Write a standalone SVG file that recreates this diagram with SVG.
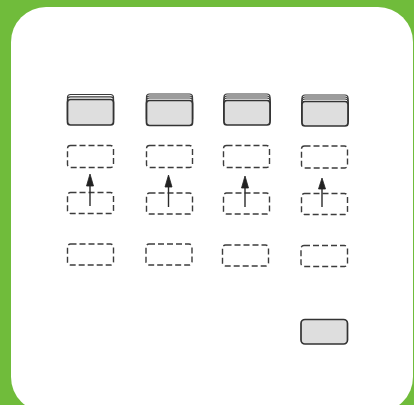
<svg xmlns="http://www.w3.org/2000/svg" width="414" height="405" viewBox="0 0 414 405">
<defs>
<style>
.card{fill:#ffffff;stroke:#3a3a3a;stroke-width:1.2}
.front{fill:#dedede;stroke:#333333;stroke-width:1.7}
.dash{fill:none;stroke:#3c3c3c;stroke-width:1.4;stroke-dasharray:6 3}
.conn{stroke:#2a2a2a;stroke-width:1.4;fill:none}
.head{fill:#222222;stroke:#222222;stroke-width:0.8;stroke-linejoin:round}
</style>
</defs>
<rect x="0" y="0" width="414" height="405" fill="#70bc3b"/>
<rect x="11" y="7" width="402" height="405" rx="35" ry="35" fill="#ffffff"/>

<g id="stack1">
<rect class="card" x="67.5" y="94.5" width="46" height="28" rx="3"/>
<rect class="card" x="67.5" y="96.8" width="46" height="26" rx="3"/>
<rect class="front" x="67.5" y="99.5" width="46" height="25.5" rx="3"/>
</g>
<g id="stack2">
<rect class="card" x="146.5" y="94" width="46" height="28" rx="3"/>
<rect class="card" x="146.5" y="96" width="46" height="26" rx="3"/>
<rect class="card" x="146.5" y="98" width="46" height="26" rx="3"/>
<rect class="front" x="146.5" y="100.5" width="46" height="25" rx="3"/>
</g>
<g id="stack3">
<rect class="card" x="224" y="94" width="46" height="28" rx="3"/>
<rect class="card" x="224" y="96" width="46" height="26" rx="3"/>
<rect class="card" x="224" y="98" width="46" height="26" rx="3"/>
<rect class="front" x="224" y="100.5" width="46" height="24.5" rx="3"/>
</g>
<g id="stack4">
<rect class="card" x="302" y="95" width="46" height="28" rx="3"/>
<rect class="card" x="302" y="97" width="46" height="26" rx="3"/>
<rect class="card" x="302" y="99" width="46" height="26" rx="3"/>
<rect class="front" x="302" y="101.5" width="46" height="24.5" rx="3"/>
</g>

<g id="slot1a"><rect class="dash" x="67.5" y="145.5" width="46" height="22" rx="3"/></g>
<g id="slot2a"><rect class="dash" x="146.5" y="145.5" width="46" height="22" rx="3"/></g>
<g id="slot3a"><rect class="dash" x="223.5" y="145.5" width="46" height="22" rx="3"/></g>
<g id="slot4a"><rect class="dash" x="301.5" y="146" width="46" height="22" rx="3"/></g>

<g id="slot1b"><rect class="dash" x="67.5" y="192.5" width="46" height="21" rx="3"/></g>
<g id="slot2b"><rect class="dash" x="146.5" y="193" width="46" height="21" rx="3"/></g>
<g id="slot3b"><rect class="dash" x="223.5" y="193" width="46" height="21" rx="3"/></g>
<g id="slot4b"><rect class="dash" x="301.5" y="193.5" width="46" height="21" rx="3"/></g>

<g id="slot1c"><rect class="dash" x="67.5" y="244" width="46" height="21" rx="3"/></g>
<g id="slot2c"><rect class="dash" x="146" y="244" width="46" height="21" rx="3"/></g>
<g id="slot3c"><rect class="dash" x="222.5" y="245" width="46" height="21" rx="3"/></g>
<g id="slot4c"><rect class="dash" x="301" y="245.5" width="46.5" height="21" rx="3"/></g>

<g id="result"><rect class="front" x="301" y="319.5" width="46.5" height="24.5" rx="4"/></g>

<g id="connectors">
<line class="conn" x1="90" y1="206" x2="90" y2="184"/>
<polygon class="head" points="90,174 93.5,186 86.5,186"/>
<line class="conn" x1="168.5" y1="207" x2="168.5" y2="185"/>
<polygon class="head" points="168.5,175 172,187 165,187"/>
<line class="conn" x1="245" y1="207" x2="245" y2="186"/>
<polygon class="head" points="245,176 248.5,188 241.5,188"/>
<line class="conn" x1="322" y1="207" x2="322" y2="187"/>
<polygon class="head" points="322,178 325.5,189 318.5,189"/>
</g>
</svg>
